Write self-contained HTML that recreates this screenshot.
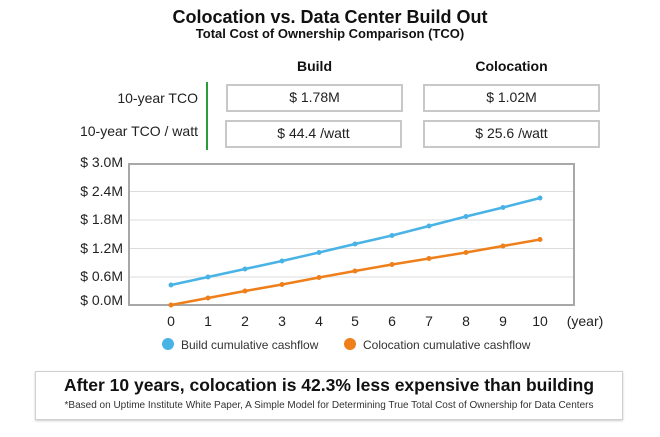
<!DOCTYPE html>
<html><head><style>
body{margin:0;width:660px;height:437px;background:#fff;font-family:"Liberation Sans",Arial,sans-serif;position:relative;overflow:hidden;color:#111}
.a{position:absolute}
.box{position:absolute;border:2px solid #c8c8c8;box-sizing:border-box;text-align:center;font-size:14px;line-height:22px;color:#222}
</style></head><body>
<div class="a" style="left:0;width:660px;top:7px;text-align:center;font-weight:bold;font-size:18px">Colocation vs. Data Center Build Out</div>
<div class="a" style="left:0;width:660px;top:26px;text-align:center;font-weight:bold;font-size:13px">Total Cost of Ownership Comparison (TCO)</div>
<div class="a" style="left:226px;width:177px;top:58px;text-align:center;font-weight:bold;font-size:14px">Build</div>
<div class="a" style="left:423px;width:177px;top:58px;text-align:center;font-weight:bold;font-size:14px">Colocation</div>
<div class="a" style="left:0;width:198px;top:90px;text-align:right;font-size:14px;color:#222">10-year TCO</div>
<div class="a" style="left:0;width:198px;top:123px;text-align:right;font-size:14px;color:#222">10-year TCO / watt</div>
<div class="a" style="left:206px;top:82px;width:2px;height:68px;background:#2a9d3a"></div>
<div class="box" style="left:226px;top:84px;width:177px;height:28px">$ 1.78M</div>
<div class="box" style="left:423px;top:84px;width:177px;height:28px">$ 1.02M</div>
<div class="box" style="left:225px;top:120px;width:177px;height:28px">$ 44.4 /watt</div>
<div class="box" style="left:423px;top:120px;width:177px;height:28px">$ 25.6 /watt</div>
<svg class="a" style="left:0;top:0" width="660" height="437" font-family="Liberation Sans, Arial, sans-serif">
<g stroke="#ddd" stroke-width="1">
<line x1="129" x2="574" y1="191.5" y2="191.5"/><line x1="129" x2="574" y1="220" y2="220"/><line x1="129" x2="574" y1="248.5" y2="248.5"/><line x1="129" x2="574" y1="277" y2="277"/>
</g>
<rect x="129" y="164" width="445" height="141" fill="none" stroke="#a8a8a8" stroke-width="2"/>
<g font-size="14" fill="#222" text-anchor="end">
<text x="123" y="167">$ 3.0M</text><text x="123" y="196">$ 2.4M</text><text x="123" y="224">$ 1.8M</text><text x="123" y="253">$ 1.2M</text><text x="123" y="281">$ 0.6M</text><text x="123" y="305">$ 0.0M</text>
</g>
<g font-size="14" fill="#222" text-anchor="middle">
<text x="171" y="326">0</text><text x="208" y="326">1</text><text x="245" y="326">2</text><text x="282" y="326">3</text><text x="319" y="326">4</text><text x="355" y="326">5</text><text x="392" y="326">6</text><text x="429" y="326">7</text><text x="466" y="326">8</text><text x="503" y="326">9</text><text x="540" y="326">10</text>
<text x="585" y="326">(year)</text>
</g>
<polyline fill="none" stroke="#4ab3e6" stroke-width="2.5" points="171,285 208,277 245,269 282,261 319,252.5 355,244 392,235.5 429,226 466,216.5 503,207.5 540,198"/>
<polyline fill="none" stroke="#ee7f1a" stroke-width="2.5" points="171,305 208,298 245,291 282,284.5 319,277.5 355,271 392,264.5 429,258.5 466,252.5 503,246 540,239.5"/>
<g fill="#4ab3e6"><circle cx="171" cy="285" r="2.5"/><circle cx="208" cy="277" r="2.5"/><circle cx="245" cy="269" r="2.5"/><circle cx="282" cy="261" r="2.5"/><circle cx="319" cy="252.5" r="2.5"/><circle cx="355" cy="244" r="2.5"/><circle cx="392" cy="235.5" r="2.5"/><circle cx="429" cy="226" r="2.5"/><circle cx="466" cy="216.5" r="2.5"/><circle cx="503" cy="207.5" r="2.5"/><circle cx="540" cy="198" r="2.5"/></g>
<g fill="#ee7f1a"><circle cx="171" cy="305" r="2.5"/><circle cx="208" cy="298" r="2.5"/><circle cx="245" cy="291" r="2.5"/><circle cx="282" cy="284.5" r="2.5"/><circle cx="319" cy="277.5" r="2.5"/><circle cx="355" cy="271" r="2.5"/><circle cx="392" cy="264.5" r="2.5"/><circle cx="429" cy="258.5" r="2.5"/><circle cx="466" cy="252.5" r="2.5"/><circle cx="503" cy="246" r="2.5"/><circle cx="540" cy="239.5" r="2.5"/></g>
<circle cx="168" cy="344" r="6" fill="#4ab3e6"/><text x="181" y="349" font-size="12" fill="#333">Build cumulative cashflow</text>
<circle cx="350" cy="344" r="6" fill="#ee7f1a"/><text x="363" y="349" font-size="12" fill="#333">Colocation cumulative cashflow</text>
</svg>
<div class="a" style="left:35px;top:371px;width:586px;height:47px;border:1px solid #d0d0d0;box-shadow:0 1px 2px #ccc"></div>
<div class="a" style="left:35px;width:588px;top:375px;text-align:center;font-weight:bold;font-size:17.5px">After 10 years, colocation is 42.3% less expensive than building</div>
<div class="a" style="left:35px;width:588px;top:400px;text-align:center;font-size:10px;color:#333">*Based on Uptime Institute White Paper, A Simple Model for Determining True Total Cost of Ownership for Data Centers</div>
</body></html>
